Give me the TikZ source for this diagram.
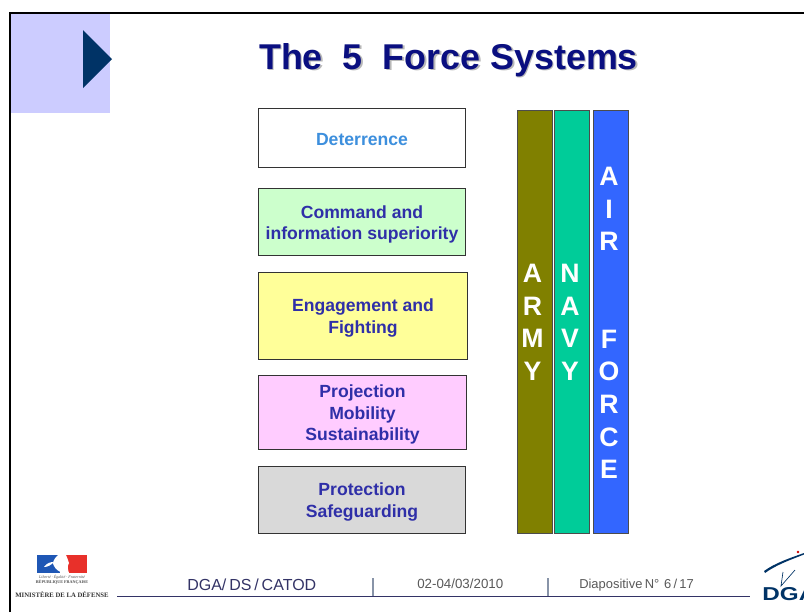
\documentclass[tikz,border=0pt]{standalone}
\usepackage{fontspec}
\setmainfont{Liberation Sans}
\newfontfamily\logoserif{Liberation Serif}
\newfontfamily\tightsans[WordSpace=0.65]{Liberation Sans}
\definecolor{lilac}{HTML}{CCCCFF}
\definecolor{navyarrow}{HTML}{003366}
\definecolor{titleblue}{HTML}{0A0F80}
\definecolor{labelblue}{HTML}{2F2FA8}
\definecolor{detblue}{HTML}{3D8FDD}
\definecolor{footblue}{HTML}{333366}
\definecolor{footgray}{HTML}{8894A8}
\definecolor{flagblue}{HTML}{1F57B5}
\definecolor{flagred}{HTML}{E8302A}
\tikzset{
  sysbox/.style={draw=black!80,line width=0.6pt,inner sep=0pt},
  boxtext/.style={align=center,text=labelblue,font=\fontsize{13.2}{15.8}\selectfont\bfseries,inner sep=0pt,yshift=-1.5pt},
  bar/.style={draw=black!70,line width=0.7pt},
  barletters/.style={text=white,font=\fontsize{20}{24.4}\selectfont\bfseries,align=center,inner sep=0pt},
  foot/.style={text=footblue,inner sep=0pt,anchor=base west},
  titletext/.style={font=\fontsize{26.9}{30}\selectfont\bfseries,inner sep=0pt,anchor=base},
}
\newcommand{\titlewords}{The\ \ 5\ \ Force Systems}
\begin{document}
\begin{tikzpicture}[x=0.75pt,y=-0.75pt]
\useasboundingbox (0,0) rectangle (804,612);
\fill[white] (0,0) rectangle (804,612);
% slide frame
\fill[lilac] (10,13) rectangle (110,113);
\draw[line width=1.5pt,black] (9.5,612) -- (9.5,12.5) -- (804,12.5);
\fill[navyarrow] (83,30) -- (112,59) -- (83,88) -- cycle;
% title with soft shadow
\node[titletext,text=titleblue] (title) at (448.5,69) {\rlap{\kern1.3pt\raisebox{-1.1pt}{\textcolor{black!28}{\titlewords}}}\titlewords};
% boxes
\node[sysbox,fill=white,minimum width=155.5pt,minimum height=44.7pt,label={[boxtext,text=detblue]center:Deterrence}] (b1) at (362,138) {};
\node[sysbox,fill={rgb,255:red,204;green,255;blue,204},minimum width=155.5pt,minimum height=50.5pt,label={[boxtext]center:Command and\\information superiority}] (b2) at (362,222) {};
\node[sysbox,fill={rgb,255:red,255;green,255;blue,153},minimum width=156.8pt,minimum height=65.5pt,label={[boxtext]center:Engagement and\\Fighting}] (b3) at (363,316) {};
\node[sysbox,fill={rgb,255:red,255;green,204;blue,255},minimum width=156.2pt,minimum height=55.5pt,label={[boxtext]center:Projection\\Mobility\\Sustainability}] (b4) at (362.5,412.5) {};
\node[sysbox,fill=black!15,minimum width=155.5pt,minimum height=50.5pt,label={[boxtext]center:Protection\\Safeguarding}] (b5) at (362,500) {};
% bars
\draw[bar,fill={rgb,255:red,128;green,128;blue,0}] (517,110) rectangle (552,533);
\draw[bar,fill={rgb,255:red,0;green,204;blue,153}] (554,110) rectangle (589,533);
\draw[bar,fill={rgb,255:red,51;green,102;blue,255}] (593,110) rectangle (628,533);
\node[barletters] (army) at (532.5,322.5) {A\\R\\M\\Y};
\node[barletters] (navy) at (570,322.5) {N\\A\\V\\Y};
\node[barletters] (air) at (609,323) {A\\I\\R\\ \\ \\F\\O\\R\\C\\E};
% footer
\draw[footblue,line width=0.6pt] (117,596.5) -- (750,596.5);
\draw[footgray,line width=0.8pt] (373,578) -- (373,596);
\draw[footgray,line width=0.8pt] (548,578) -- (548,596);
\node[foot,font=\tightsans\fontsize{12}{14}\selectfont] (f1) at (187,590) {DGA/ DS / CATOD};
\node[foot,font=\fontsize{10}{12}\selectfont,text=black!65] (f2) at (417,588) {02-04/03/2010};
\node[foot,font=\tightsans\fontsize{9.7}{12}\selectfont,text=black!65] (f3) at (579,588) {Diapositive N\textdegree\ \ 6 / 17};
% left logo
\fill[flagblue] (36.5,555) rectangle (60,573);
\fill[flagred] (66,555) rectangle (87,573);
\fill[white] (58,555) .. controls (53,560) and (52,563) .. (54,566) .. controls (56,570) and (60,572) .. (63,573) -- (69,573) .. controls (68,570) and (67,566) .. (69,563) .. controls (67,560) and (68,557) .. (66,555) -- cycle;
\fill[white] (44,567) .. controls (47,563) and (50,562) .. (54,562) .. controls (51,565) and (48,567) .. (44,567) -- cycle;
\node[inner sep=0pt,font=\logoserif\fontsize{3}{3}\selectfont\itshape,text=black!70] (lib) at (62,577) {Liberté · Égalité · Fraternité};
\node[inner sep=0pt,font=\logoserif\fontsize{3.1}{3}\selectfont\bfseries,text=black!70] (rep) at (62,582.5) {RÉPUBLIQUE FRANÇAISE};
\node[inner sep=0pt,font=\logoserif\fontsize{5.05}{6}\selectfont\bfseries,text=black!80] (min) at (62,595) {MINISTÈRE DE LA DÉFENSE};
% DGA logo
\node[inner sep=0pt,anchor=base west,xscale=1.3,transform shape,font=\fontsize{14}{16}\selectfont\bfseries,text=navyarrow] (dga) at (762,600) {DGA};
\fill[red!80!black] (798,552) circle (1pt);
\fill[navyarrow] (764,571) .. controls (775,563) and (790,558) .. (804,553) -- (804,554.5) .. controls (790,560) and (776,565) .. (765,573) -- cycle;
\draw[navyarrow,line width=0.5pt] (783,572) -- (781,586) -- (795,570);
\end{tikzpicture}
\end{document}
